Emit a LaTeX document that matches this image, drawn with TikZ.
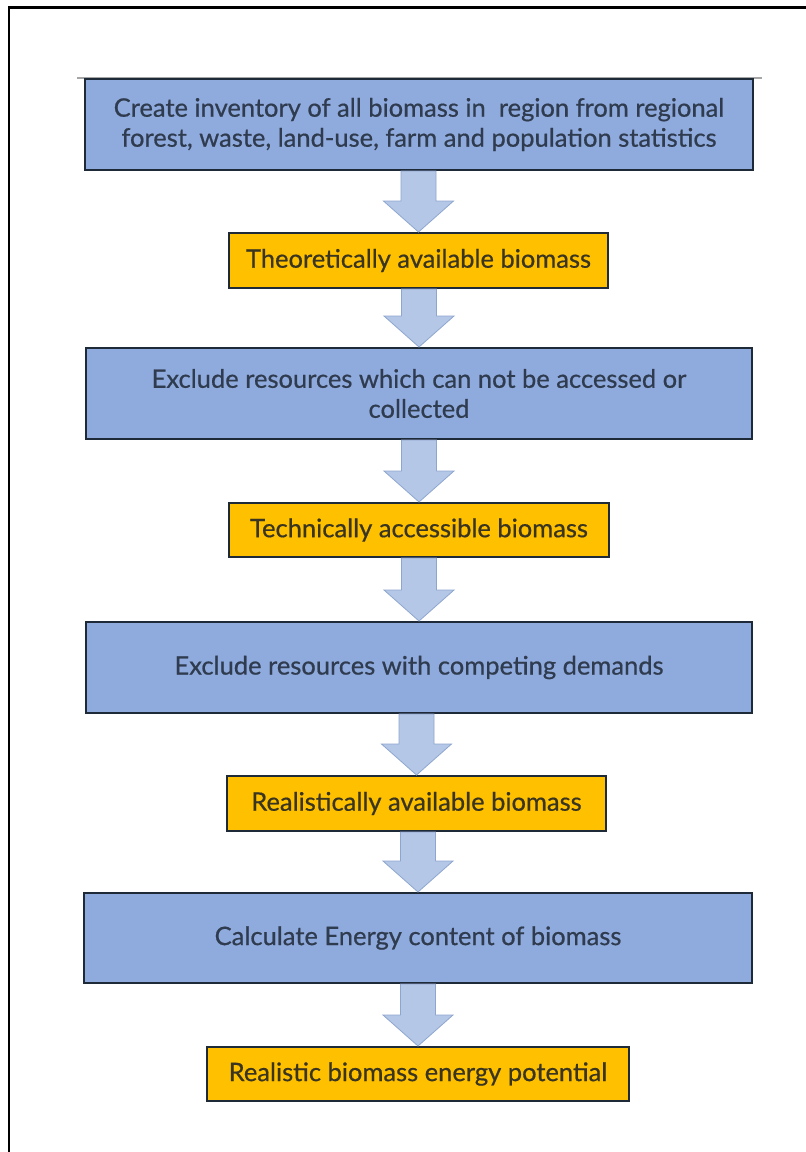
\documentclass[tikz,border=0pt]{standalone}
\usepackage{fontspec}
\setmainfont{Lato}
\newfontfamily\labelfont[FakeBold=0.6]{Lato}
\usetikzlibrary{calc}
\definecolor{boxblue}{HTML}{8FAADC}
\definecolor{boxyellow}{HTML}{FFC000}
\definecolor{boxedge}{HTML}{1F2A38}
\definecolor{txtblue}{HTML}{2F3B4E}
\definecolor{txtyellow}{HTML}{3A3520}
\definecolor{arrfill}{HTML}{B4C7E7}
\definecolor{arredge}{HTML}{8EA6CF}
\definecolor{rulegray}{HTML}{A6A6A6}
\tikzset{
  stepbox/.style={draw=boxedge, line width=2pt, fill=boxblue, text=txtblue,
    align=center, inner sep=0pt, font=\labelfont\fontsize{25.5}{30}\selectfont},
  resultbox/.style={draw=boxedge, line width=2pt, fill=boxyellow, text=txtyellow,
    align=center, inner sep=0pt, font=\labelfont\fontsize{25.5}{30}\selectfont},
  blockarr/.style={fill=arrfill, draw=arredge, line width=0.8pt, line join=miter}
}
\newcommand{\blockarrow}[2]{%
  \draw[blockarr]
    ($(#1.south -| #2.north)+(-17.5,0)$) -- ($(#2.north)+(-17.5,-31)$) --
    ($(#2.north)+(-35,-31)$) -- (#2.north) --
    ($(#2.north)+(35,-31)$) -- ($(#2.north)+(17.5,-31)$) --
    ($(#1.south -| #2.north)+(17.5,0)$) -- cycle;}
\begin{document}
\begin{tikzpicture}[x=1pt,y=-1pt]
\useasboundingbox (0,0) rectangle (806,1152);
\fill[white] (0,0) rectangle (806,1152);
% outer frame
\coordinate (ftr) at (806,7.3);
\coordinate (ftl) at (9,7.3);
\coordinate (fbl) at (9,1152);
\draw[line width=2.6pt, line cap=rect] (ftr) -- (ftl) -- (fbl);
% gray rule above first box
\coordinate (gl) at (77,77.5);
\coordinate (gr) at (762,77.5);
\draw[rulegray, line width=2pt] (gl) -- (gr);

\node[stepbox, minimum width=668, minimum height=91] (b1) at (419,124.5)
  {Create inventory of all biomass in\ \ region from regional\\forest, waste, land-use, farm and population statistics};
\node[resultbox, minimum width=379, minimum height=55] (b2) at (418.5,260.5)
  {Theoretically available biomass};
\node[stepbox, minimum width=666, minimum height=91] (b3) at (419,393.5)
  {Exclude resources which can not be accessed or\\collected};
\node[resultbox, minimum width=380, minimum height=54] (b4) at (419,530)
  {Technically accessible biomass};
\node[stepbox, minimum width=666, minimum height=91] (b5) at (419,667.5)
  {Exclude resources with competing demands};
\node[resultbox, minimum width=379, minimum height=55] (b6) at (416.5,803.5)
  {Realistically available biomass};
\node[stepbox, minimum width=668, minimum height=90] (b7) at (418,938)
  {Calculate Energy content of biomass};
\node[resultbox, minimum width=422, minimum height=54] (b8) at (418,1074)
  {Realistic biomass energy potential};

\blockarrow{b1}{b2}
\blockarrow{b2}{b3}
\blockarrow{b3}{b4}
\blockarrow{b4}{b5}
\blockarrow{b5}{b6}
\blockarrow{b6}{b7}
\blockarrow{b7}{b8}
\end{tikzpicture}
\end{document}
